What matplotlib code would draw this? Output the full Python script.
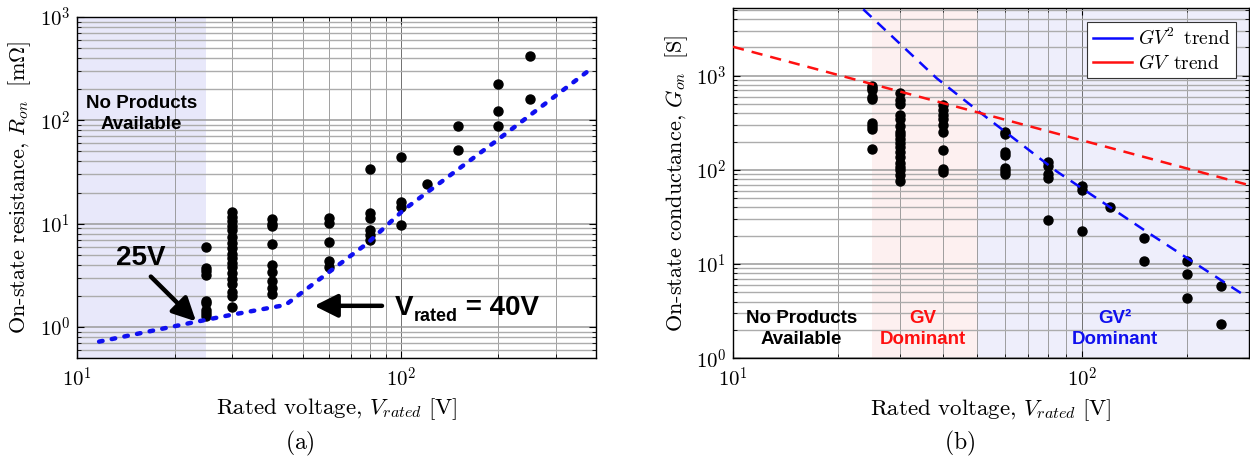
import numpy as np
import matplotlib
matplotlib.use("Agg")
import matplotlib.pyplot as plt
from matplotlib.ticker import LogLocator, FuncFormatter, NullFormatter

plt.rcParams['mathtext.fontset'] = 'cm'
plt.rcParams['font.family'] = ['DejaVu Sans']

# ---------------- data (a): on-state resistance [mOhm] ----------------
volts = [25, 30, 40, 60, 80, 100, 120, 150, 200, 250]
ron_25 = [5.95, 3.7, 3.45, 3.2, 1.8, 1.7, 1.45, 1.35, 1.28]
ron_30 = [13, 11.5, 10.5, 9.5, 8.6, 7.5, 6.5, 5.8, 5.1, 4.6, 4.2, 3.8, 3.3, 2.9, 2.6, 2.2, 2.0, 1.55]
ron_40 = [11, 10, 9.5, 6.3, 4.0, 3.4, 2.8, 2.4, 2.1]
ron_60 = [11.3, 10.2, 6.6, 4.3, 3.8]
ron_80 = [34, 12.7, 11.3, 8.7, 7.8, 7.0]
ron_100 = [44, 16.2, 14.5, 9.7]
ron_120 = [24]
ron_150 = [88, 52]
ron_200 = [225, 123, 88]
ron_250 = [420, 161]
ron_lists = [ron_25, ron_30, ron_40, ron_60, ron_80, ron_100, ron_120, ron_150, ron_200, ron_250]

trend_v_a = [11.7, 23.3, 30, 44, 60, 79, 102, 195, 382]
trend_r_a = [0.72, 1.12, 1.31, 1.63, 3.4, 6.5, 13.6, 61.8, 307]

# ---------------- data (b): on-state conductance [S] ----------------
gon_25 = [168, 270, 290, 312, 560, 590, 700, 740, 780]
gon_30 = [660, 550, 500, 380, 350, 290, 255, 235, 215, 195, 175, 155, 138, 118, 108, 100, 88, 76]
gon_40 = [487, 431, 381, 351, 298, 253, 161, 103, 95]
gon_60 = [255, 240, 155, 145, 105, 97, 90]
gon_80 = [120, 110, 90, 83, 29.5]
gon_100 = [68, 61, 22.6]
gon_120 = [40.8]
gon_150 = [18.9, 10.8]
gon_200 = [10.8, 7.8, 4.34]
gon_250 = [5.87, 2.29]
gon_lists = [gon_25, gon_30, gon_40, gon_60, gon_80, gon_100, gon_120, gon_150, gon_200, gon_250]

gv2_v = [23.6, 38.3, 49.9, 84.6, 153, 290]
gv2_g = [5070, 940, 433, 96, 22, 4.7]
gv_v = [10, 300]
gv_g = [2030, 69]

W, H = 1250, 462
fig = plt.figure(figsize=(W / 100, H / 100), dpi=100)

def px_axes(x0, y0, x1, y1):
    return fig.add_axes([x0 / W, 1 - y1 / H, (x1 - x0) / W, (y1 - y0) / H])

axa = px_axes(77, 17, 596, 358)
axb = px_axes(733, 8.3, 1249, 358.3)

fmt = FuncFormatter(lambda v, p: r'$10^{%d}$' % int(round(np.log10(v))))

def style(ax):
    ax.set_xscale('log')
    ax.set_yscale('log')
    for axis in (ax.xaxis, ax.yaxis):
        axis.set_major_locator(LogLocator(base=10, numticks=20))
        axis.set_minor_locator(LogLocator(base=10, subs=np.arange(2, 10), numticks=20))
        axis.set_major_formatter(fmt)
        axis.set_minor_formatter(NullFormatter())
    ax.tick_params(which='both', direction='in', top=True, right=True, labelsize=15)
    ax.tick_params(which='major', length=5, width=0.8)
    ax.tick_params(which='minor', length=3, width=0.6)
    ax.tick_params(axis='x', pad=6)
    ax.tick_params(axis='y', pad=5)
    ax.set_axisbelow(True)
    ax.grid(True, axis='x', which='major', color='#707070', lw=0.7)
    ax.grid(True, axis='x', which='minor', color='#909090', lw=0.6)
    ax.grid(True, axis='y', which='major', color='#9a9a9a', lw=1.1)
    ax.grid(True, axis='y', which='minor', color='#acacac', lw=1.0)
    for s in ax.spines.values():
        s.set_linewidth(1.0)

style(axa)
style(axb)

# ---------------- panel (a) ----------------
axa.set_xlim(10, 400)
axa.set_ylim(0.5, 1000)
axa.axvspan(10, 25, color='#e8e8fa', zorder=0, lw=0)
for v, vals in zip(volts, ron_lists):
    axa.plot([v] * len(vals), vals, 'o', color='black', ms=6.5, zorder=3)
axa.plot(trend_v_a, trend_r_a, color='#1010f0', lw=3.2, dashes=(0.8, 2.1),
         dash_capstyle='round', zorder=4)

axa.text(15.8, 115, 'No Products\nAvailable', ha='center', va='center',
         fontsize=13.5, fontweight='bold', family='Liberation Sans', linespacing=1.25)
axa.text(15.7, 4.66, '25V', ha='center', va='center', fontsize=20,
         fontweight='bold', family='Liberation Sans')
arrow_kw = dict(arrowstyle='-|>,head_length=0.7,head_width=0.35', lw=3.2, color='black',
                mutation_scale=20, shrinkA=0, shrinkB=0)
axa.annotate('', xy=(23.3, 1.13), xytext=(16.9, 3.07), arrowprops=arrow_kw)
axa.annotate('', xy=(54, 1.6), xytext=(87.4, 1.6), arrowprops=arrow_kw)
tV = axa.text(95.5, 1.31, 'V', ha='left', va='baseline', fontsize=20,
              fontweight='bold', family='Liberation Sans')
tR = axa.annotate('rated', xy=(1, 0), xycoords=tV, xytext=(0.5, -3),
                  textcoords='offset points', ha='left', va='bottom', fontsize=13,
                  fontweight='bold', family='Liberation Sans')
axa.annotate(' = 40V', xy=(1, 0), xycoords=(tR, tV), ha='left', va='bottom',
             fontsize=20, fontweight='bold', family='Liberation Sans')

axa.set_xlabel(r'$\text{Rated voltage, }V_{rated}\ \text{[V]}$', fontsize=16.5)
axa.set_ylabel(r'$\text{On-state resistance, }R_{on}\ \ \text{[m}\Omega\text{]}$', fontsize=16)
axa.xaxis.set_label_coords(0.5, -0.112)
axa.yaxis.set_label_coords(-0.085, 0.5)

# ---------------- panel (b) ----------------
axb.set_xlim(10, 300)
axb.set_ylim(1, 5200)
axb.axvspan(25, 50, color='#fdf0f0', zorder=0, lw=0)
axb.axvspan(50, 300, color='#eeeefb', zorder=0, lw=0)
for v, vals in zip(volts, gon_lists):
    axb.plot([v] * len(vals), vals, 'o', color='black', ms=6.5, zorder=3)
axb.plot(gv2_v, gv2_g, color='#0a0aff', lw=1.8, dashes=(4.5, 3.2), zorder=4,
         label=r'$GV^2\ \,\mathrm{trend}$')
axb.plot(gv_v, gv_g, color='#ff1010', lw=1.8, dashes=(4.5, 3.2), zorder=4,
         label=r'$GV\ \,\mathrm{trend}$')
leg = axb.legend(loc='upper right', bbox_to_anchor=(0.9748, 0.9617), borderaxespad=0,
                 fontsize=14, frameon=True, fancybox=False, framealpha=1,
                 edgecolor='#333333', handlelength=2.0, handletextpad=0.3,
                 borderpad=0.3, labelspacing=0.25)
for h in leg.get_lines():
    h.set_linestyle('-')
    h.set_linewidth(1.8)
leg.get_frame().set_linewidth(0.8)

axb.text(15.7, 2.05, 'No Products\nAvailable', ha='center', va='center', fontsize=13.5,
         fontweight='bold', family='Liberation Sans', color='black', linespacing=1.3)
axb.text(35, 2.05, 'GV\nDominant', ha='center', va='center', fontsize=13.5,
         fontweight='bold', family='Liberation Sans', color='#ff1010', linespacing=1.3)
axb.text(123.6, 2.05, 'GV\u00b2\nDominant', ha='center', va='center', fontsize=13.5,
         fontweight='bold', family='Liberation Sans', color='#1010ee', linespacing=1.3)

axb.set_xlabel(r'$\text{Rated voltage, }V_{rated}\ \text{[V]}$', fontsize=16.5)
axb.set_ylabel(r'$\text{On-state conductance, }G_{on}\ \ \text{[S]}$', fontsize=16)
axb.xaxis.set_label_coords(0.5, -0.112)
axb.yaxis.set_label_coords(-0.083, 0.5)

fig.text(300 / W, 1 - 443 / H, r'$\mathrm{(a)}$', ha='center', va='center', fontsize=17)
fig.text(960 / W, 1 - 443 / H, r'$\mathrm{(b)}$', ha='center', va='center', fontsize=17)

fig.savefig('out.png', dpi=100)
